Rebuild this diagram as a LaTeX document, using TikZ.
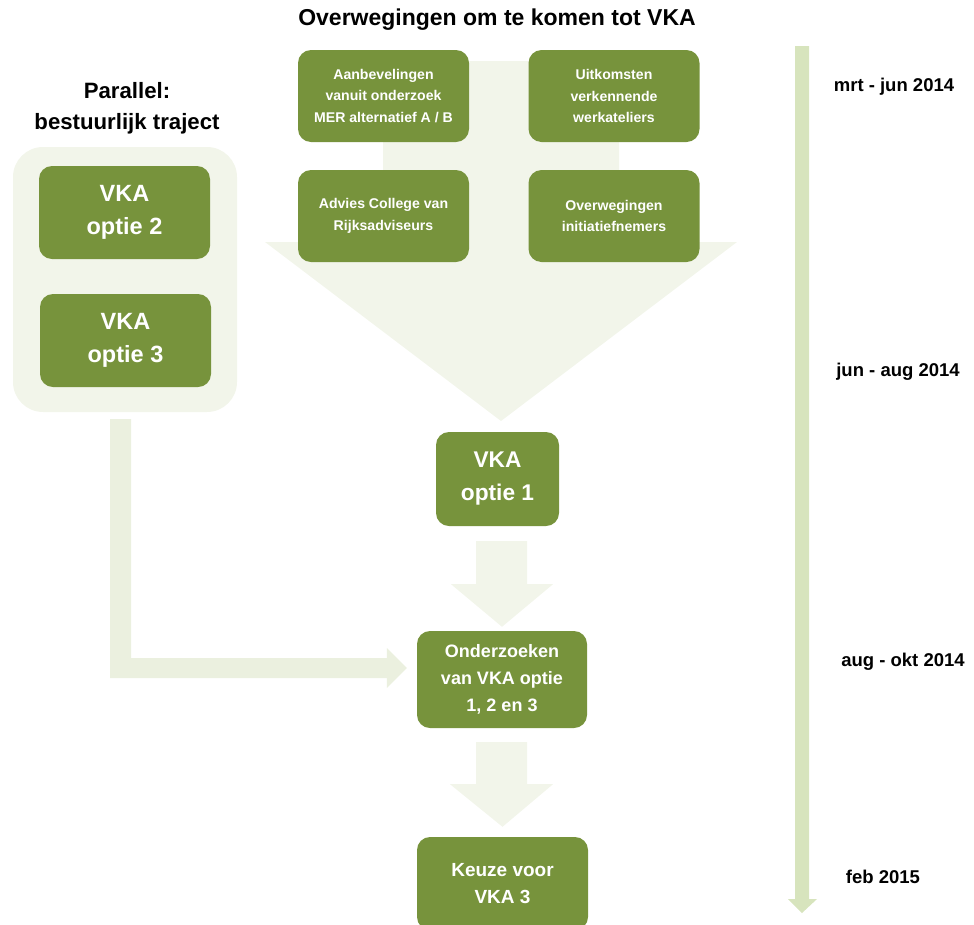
\documentclass[tikz,border=0pt]{standalone}
\usepackage{fontspec}
\setmainfont{Liberation Sans}
\usetikzlibrary{calc}
\definecolor{boxgreen}{HTML}{77933C}
\definecolor{paleA}{HTML}{F2F5EA}
\definecolor{paleB}{HTML}{EBF0DF}
\definecolor{tline}{HTML}{D7E4BD}
\tikzset{
  gbox/.style={fill=boxgreen, rounded corners=13pt, text=white, align=center, inner sep=0pt, font=\bfseries},
  smallbox/.style={gbox, minimum width=171pt, minimum height=92pt, font=\bfseries\fontsize{14.1}{21.5}\selectfont},
  midtext/.style={font=\bfseries\fontsize{18}{27}\selectfont},
  datelabel/.style={font=\bfseries\fontsize{18.5}{22}\selectfont, inner sep=0pt},
  blockarrow/.style={fill=paleA, draw=none},
  larrow/.style={fill=paleB, draw=none},
}
\begin{document}
\begin{tikzpicture}[x=1pt,y=-1pt]
\useasboundingbox (0,0) rectangle (974,924);
\clip (0,0) rectangle (974,924);
% big arrow behind the four top boxes
\coordinate (bigtip) at (501,421);
\fill[blockarrow] (383,61) -- (619,61) -- (619,242) -- (737,242) -- (bigtip) -- (265,242) -- (383,242) -- cycle;
% left panel
\node[fill=paleA, rounded corners=30pt, minimum width=224pt, minimum height=265pt, inner sep=0pt] (panel) at (125,279.5) {};
% title
\node[font=\bfseries\fontsize{23}{26}\selectfont, inner sep=0pt] (title) at (497,20) {Overwegingen om te komen tot VKA};
\node[font=\bfseries\fontsize{22.2}{31}\selectfont, align=center, inner sep=0pt] (par) at (127,108) {Parallel:\\bestuurlijk traject};
% top boxes
\node[smallbox] (b1) at (383.5,96) {Aanbevelingen\\vanuit onderzoek\\MER alternatief A / B};
\node[smallbox] (b2) at (614,96) {Uitkomsten\\verkennende\\werkateliers};
\node[smallbox] (b3) at (383.5,216) {Advies College van\\Rijksadviseurs};
\node[smallbox] (b4) at (614,216) {Overwegingen\\initiatiefnemers};
% left options
\node[gbox, font=\bfseries\fontsize{23.5}{33}\selectfont, minimum width=171pt, minimum height=93pt] (o2) at (124.5,212.5) {VKA\\optie 2};
\node[gbox, font=\bfseries\fontsize{23.5}{33}\selectfont, minimum width=171pt, minimum height=93pt] (o3) at (125.5,340.5) {VKA\\optie 3};
% centre column
\node[gbox, font=\bfseries\fontsize{22.7}{33}\selectfont, minimum width=123pt, minimum height=94pt] (v1) at (497.5,479) {VKA\\optie 1};
\node[gbox, midtext, minimum width=170pt, minimum height=97pt] (ond) at (502,679.5) {Onderzoeken\\van VKA optie\\1, 2 en 3};
\node[gbox, font=\bfseries\fontsize{19}{27}\selectfont, minimum width=171pt, minimum height=93pt] (keu) at (502.5,883.5) {Keuze voor\\VKA 3};
% arrow v1 -> ond
\fill[blockarrow] ($(v1.south)+(-21.5,15)$) -- ($(v1.south)+(29.5,15)$) -- ($(v1.south)+(29.5,58)$) -- ($(v1.south)+(55.5,58)$) -- ($(ond.north)+(0,-4)$) -- ($(v1.south)+(-46.5,58)$) -- ($(v1.south)+(-21.5,58)$) -- cycle;
% arrow ond -> keu
\fill[blockarrow] ($(ond.south)+(-26,14)$) -- ($(ond.south)+(25,14)$) -- ($(ond.south)+(25,56)$) -- ($(ond.south)+(51,56)$) -- ($(keu.north)+(0,-10)$) -- ($(ond.south)+(-52,56)$) -- ($(ond.south)+(-26,56)$) -- cycle;
% L arrow panel -> ond
\coordinate (ltip) at ($(ond.west)+(-10,-11.5)$);
\fill[larrow] (110,419) -- (131,419) -- (131,658) -- ($(ltip)+(-20,-10)$) -- ($(ltip)+(-20,-20)$) -- (ltip) -- ($(ltip)+(-20,20)$) -- ($(ltip)+(-20,10)$) -- (110,678) -- cycle;
% timeline
\coordinate (tltop) at (802,46);
\coordinate (tlend) at (802,913);
\fill[tline] ($(tltop)+(-7,0)$) -- ($(tltop)+(7,0)$) -- ($(tlend)+(7,-14)$) -- ($(tlend)+(15,-14)$) -- (tlend) -- ($(tlend)+(-14,-14)$) -- ($(tlend)+(-7,-14)$) -- cycle;
\node[datelabel] (d1) at (894,87) {mrt - jun 2014};
\node[datelabel] (d2) at (898,372) {jun - aug 2014};
\node[datelabel] (d3) at (903,662) {aug - okt 2014};
\node[datelabel] (d4) at (883,877) {feb 2015};
\end{tikzpicture}
\end{document}
